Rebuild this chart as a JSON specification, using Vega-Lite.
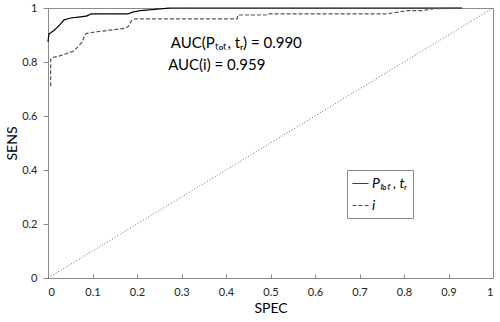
{
  "$schema": "https://vega.github.io/schema/vega-lite/v6.json",
  "width": 445,
  "height": 270,
  "autosize": {"type": "none"},
  "padding": {"left": 48, "top": 8, "right": 7, "bottom": 44},
  "background": "white",
  "config": {
    "view": {"stroke": "#8c8c8c", "strokeWidth": 1},
    "font": "Lato",
    "axis": {
      "grid": false,
      "domainColor": "#8c8c8c",
      "tickColor": "#8c8c8c",
      "labelColor": "#222",
      "labelFont": "Lato",
      "labelFontSize": 11,
      "titleFont": "Lato",
      "titleFontSize": 14,
      "titleFontWeight": "normal",
      "titleColor": "#000"
    },
    "legend": {
      "orient": "none",
      "legendX": 299,
      "legendY": 162,
      "strokeColor": "#8c8c8c",
      "padding": 5,
      "symbolType": "stroke",
      "symbolSize": 256,
      "symbolStrokeWidth": 1,
      "labelFont": "Lato",
      "labelFontSize": 14,
      "labelFontStyle": "italic",
      "labelColor": "#000",
      "rowPadding": 6,
      "labelOffset": 3
    }
  },
  "datasets": {
    "roc": [
      {"s": "Pₜₒₜ , tᵣ", "x": 0, "y": 0.874},
      {"s": "Pₜₒₜ , tᵣ", "x": 0.002, "y": 0.904},
      {"s": "Pₜₒₜ , tᵣ", "x": 0.013, "y": 0.916},
      {"s": "Pₜₒₜ , tᵣ", "x": 0.025, "y": 0.935},
      {"s": "Pₜₒₜ , tᵣ", "x": 0.036, "y": 0.956},
      {"s": "Pₜₒₜ , tᵣ", "x": 0.051, "y": 0.963},
      {"s": "Pₜₒₜ , tᵣ", "x": 0.087, "y": 0.97},
      {"s": "Pₜₒₜ , tᵣ", "x": 0.096, "y": 0.978},
      {"s": "Pₜₒₜ , tᵣ", "x": 0.18, "y": 0.978},
      {"s": "Pₜₒₜ , tᵣ", "x": 0.19, "y": 0.985},
      {"s": "Pₜₒₜ , tᵣ", "x": 0.207, "y": 0.99},
      {"s": "Pₜₒₜ , tᵣ", "x": 0.274, "y": 1.0},
      {"s": "Pₜₒₜ , tᵣ", "x": 0.93, "y": 1.0},
      {"s": "i", "x": 0.006, "y": 0.71},
      {"s": "i", "x": 0.006, "y": 0.81},
      {"s": "i", "x": 0.01, "y": 0.817},
      {"s": "i", "x": 0.025, "y": 0.822},
      {"s": "i", "x": 0.043, "y": 0.832},
      {"s": "i", "x": 0.055, "y": 0.838},
      {"s": "i", "x": 0.066, "y": 0.854},
      {"s": "i", "x": 0.077, "y": 0.875},
      {"s": "i", "x": 0.083, "y": 0.9},
      {"s": "i", "x": 0.087, "y": 0.906},
      {"s": "i", "x": 0.113, "y": 0.913},
      {"s": "i", "x": 0.132, "y": 0.916},
      {"s": "i", "x": 0.173, "y": 0.925},
      {"s": "i", "x": 0.18, "y": 0.931},
      {"s": "i", "x": 0.188, "y": 0.954},
      {"s": "i", "x": 0.196, "y": 0.96},
      {"s": "i", "x": 0.425, "y": 0.96},
      {"s": "i", "x": 0.427, "y": 0.974},
      {"s": "i", "x": 0.49, "y": 0.974},
      {"s": "i", "x": 0.494, "y": 0.978},
      {"s": "i", "x": 0.76, "y": 0.978},
      {"s": "i", "x": 0.784, "y": 0.984},
      {"s": "i", "x": 0.807, "y": 0.99},
      {"s": "i", "x": 0.84, "y": 0.99},
      {"s": "i", "x": 0.865, "y": 0.997},
      {"s": "i", "x": 0.93, "y": 1.0}
    ],
    "diag": [{"x": 0, "y": 0}, {"x": 1, "y": 1}],
    "notes": [
      {"x": 0.276, "y": 0.852, "label": "AUC(Pₜₒₜ, tᵣ) = 0.990"},
      {"x": 0.27, "y": 0.77, "label": "AUC(i) = 0.959"}
    ]
  },
  "layer": [
    {
      "data": {"name": "diag"},
      "mark": {"type": "line", "color": "#444", "strokeWidth": 0.8, "strokeDash": [1, 2]},
      "encoding": {
        "x": {"field": "x", "type": "quantitative"},
        "y": {"field": "y", "type": "quantitative"}
      }
    },
    {
      "data": {"name": "roc"},
      "mark": {"type": "line", "strokeWidth": 1.2},
      "encoding": {
        "x": {
          "field": "x", "type": "quantitative",
          "scale": {"domain": [0, 1], "nice": false},
          "axis": {
            "title": "SPEC",
            "values": [0, 0.1, 0.2, 0.3, 0.4, 0.5, 0.6, 0.7, 0.8, 0.9, 1],
            "format": "~g",
            "tickSize": -4,
            "labelPadding": 12,
            "titlePadding": 4
          }
        },
        "y": {
          "field": "y", "type": "quantitative",
          "scale": {"domain": [0, 1], "nice": false},
          "axis": {
            "title": "SENS",
            "values": [0, 0.1, 0.2, 0.3, 0.4, 0.5, 0.6, 0.7, 0.8, 0.9, 1],
            "format": "~g",
            "tickSize": 5,
            "labelPadding": 6,
            "titlePadding": 2
          }
        },
        "color": {
          "field": "s", "type": "nominal",
          "scale": {"domain": ["Pₜₒₜ , tᵣ", "i"], "range": ["#000000", "#555555"]},
          "legend": {"title": null}
        },
        "strokeDash": {
          "field": "s", "type": "nominal",
          "scale": {"domain": ["Pₜₒₜ , tᵣ", "i"], "range": [[1, 0], [4, 2]]},
          "legend": {"title": null}
        },
        "order": {"value": null}
      }
    },
    {
      "data": {"name": "notes"},
      "mark": {"type": "text", "align": "left", "baseline": "alphabetic", "font": "Lato", "fontSize": 15, "color": "#000"},
      "encoding": {
        "x": {"field": "x", "type": "quantitative"},
        "y": {"field": "y", "type": "quantitative"},
        "text": {"field": "label"}
      }
    }
  ]
}
